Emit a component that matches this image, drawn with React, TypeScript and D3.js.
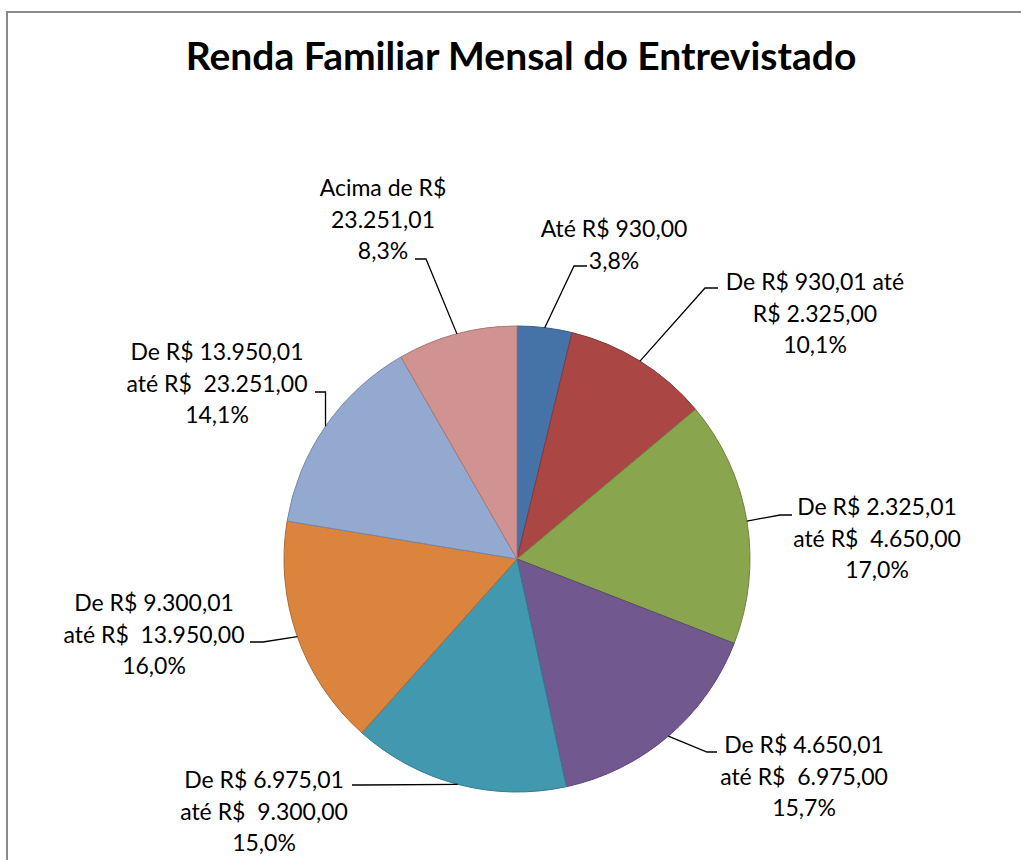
import React from "react";
import * as d3 from "d3";

const categories: string[][] = [
  ["Até R$ 930,00"],
  ["De R$ 930,01 até", "R$ 2.325,00"],
  ["De R$ 2.325,01", "até R$  4.650,00"],
  ["De R$ 4.650,01", "até R$  6.975,00"],
  ["De R$ 6.975,01", "até R$  9.300,00"],
  ["De R$ 9.300,01", "até R$  13.950,00"],
  ["De R$ 13.950,01", "até R$  23.251,00"],
  ["Acima de R$", "23.251,01"],
];
const values: number[] = [3.8, 10.1, 17.0, 15.7, 15.0, 16.0, 14.1, 8.3];
const colors: string[] = [
  "#4572A7", "#AA4643", "#89A54E", "#71588F",
  "#4198AF", "#DB843D", "#93A9CF", "#D19392",
];
const title = "Renda Familiar Mensal do Entrevistado";

// label layout: center x, first baseline, elbow x/y, end x
const labelLayout = [
  { cx: 614, by: 237, ex: 574, ey: 266, hx: 587 },
  { cx: 815, by: 290, ex: 705, ey: 288, hx: 718 },
  { cx: 877, by: 515, ex: 780, ey: 515, hx: 792 },
  { cx: 804, by: 753, ex: 707, ey: 752, hx: 717 },
  { cx: 264, by: 788, ex: 362, ey: 785, hx: 352 },
  { cx: 154, by: 611, ex: 263, ey: 642, hx: 250 },
  { cx: 217, by: 360, ex: 325.5, ey: 392, hx: 315 },
  { cx: 383, by: 196, ex: 426, ey: 259, hx: 415 },
];

const W = 1021;
const H = 860;
const CX = 517;
const CY = 559;
const R = 233;
const LINE = 31.5;
const FONT = "Lato, 'Open Sans', sans-serif";

export default function App() {
  const pie = d3.pie<number>().sort(null).value((d) => d);
  const arcs = pie(values);
  const arcGen = d3.arc<d3.PieArcDatum<number>>().innerRadius(0).outerRadius(R);
  const fmt = (v: number) => v.toFixed(1).replace(".", ",") + "%";

  return (
    <svg
      width={W}
      height={H}
      style={{ position: "absolute", left: 0, top: 0, background: "#fff" }}
    >
      <rect x={7} y={12} width={1200} height={1000} fill="#fff" stroke="#8a8a8a" strokeWidth={2} />
      <text
        x={521}
        y={70}
        textAnchor="middle"
        fontFamily={FONT}
        fontWeight="bold"
        fontSize={39}
        fill="#000"
      >
        {title}
      </text>
      <g transform={`translate(${CX},${CY})`}>
        {arcs.map((a, i) => (
          <path
            key={i}
            d={arcGen(a) || ""}
            fill={colors[i]}
            stroke={d3.color(colors[i])!.darker(0.6).formatHex()}
            strokeWidth={1}
          />
        ))}
      </g>
      {arcs.map((a, i) => {
        const mid = (a.startAngle + a.endAngle) / 2;
        const sx = CX + R * Math.sin(mid);
        const sy = CY - R * Math.cos(mid);
        const L = labelLayout[i];
        const lines = [...categories[i], fmt(values[i])];
        return (
          <g key={"l" + i}>
            <polyline
              points={`${sx},${sy} ${L.ex},${L.ey} ${L.hx},${L.ey}`}
              fill="none"
              stroke="#000"
              strokeWidth={1.3}
            />
            <text
              textAnchor="middle"
              fontFamily={FONT}
              fontSize={23}
              fill="#000"
            >
              {lines.map((t, j) => (
                <tspan key={j} x={L.cx} y={L.by + j * LINE} style={{ whiteSpace: "pre" }}>
                  {t}
                </tspan>
              ))}
            </text>
          </g>
        );
      })}
    </svg>
  );
}
